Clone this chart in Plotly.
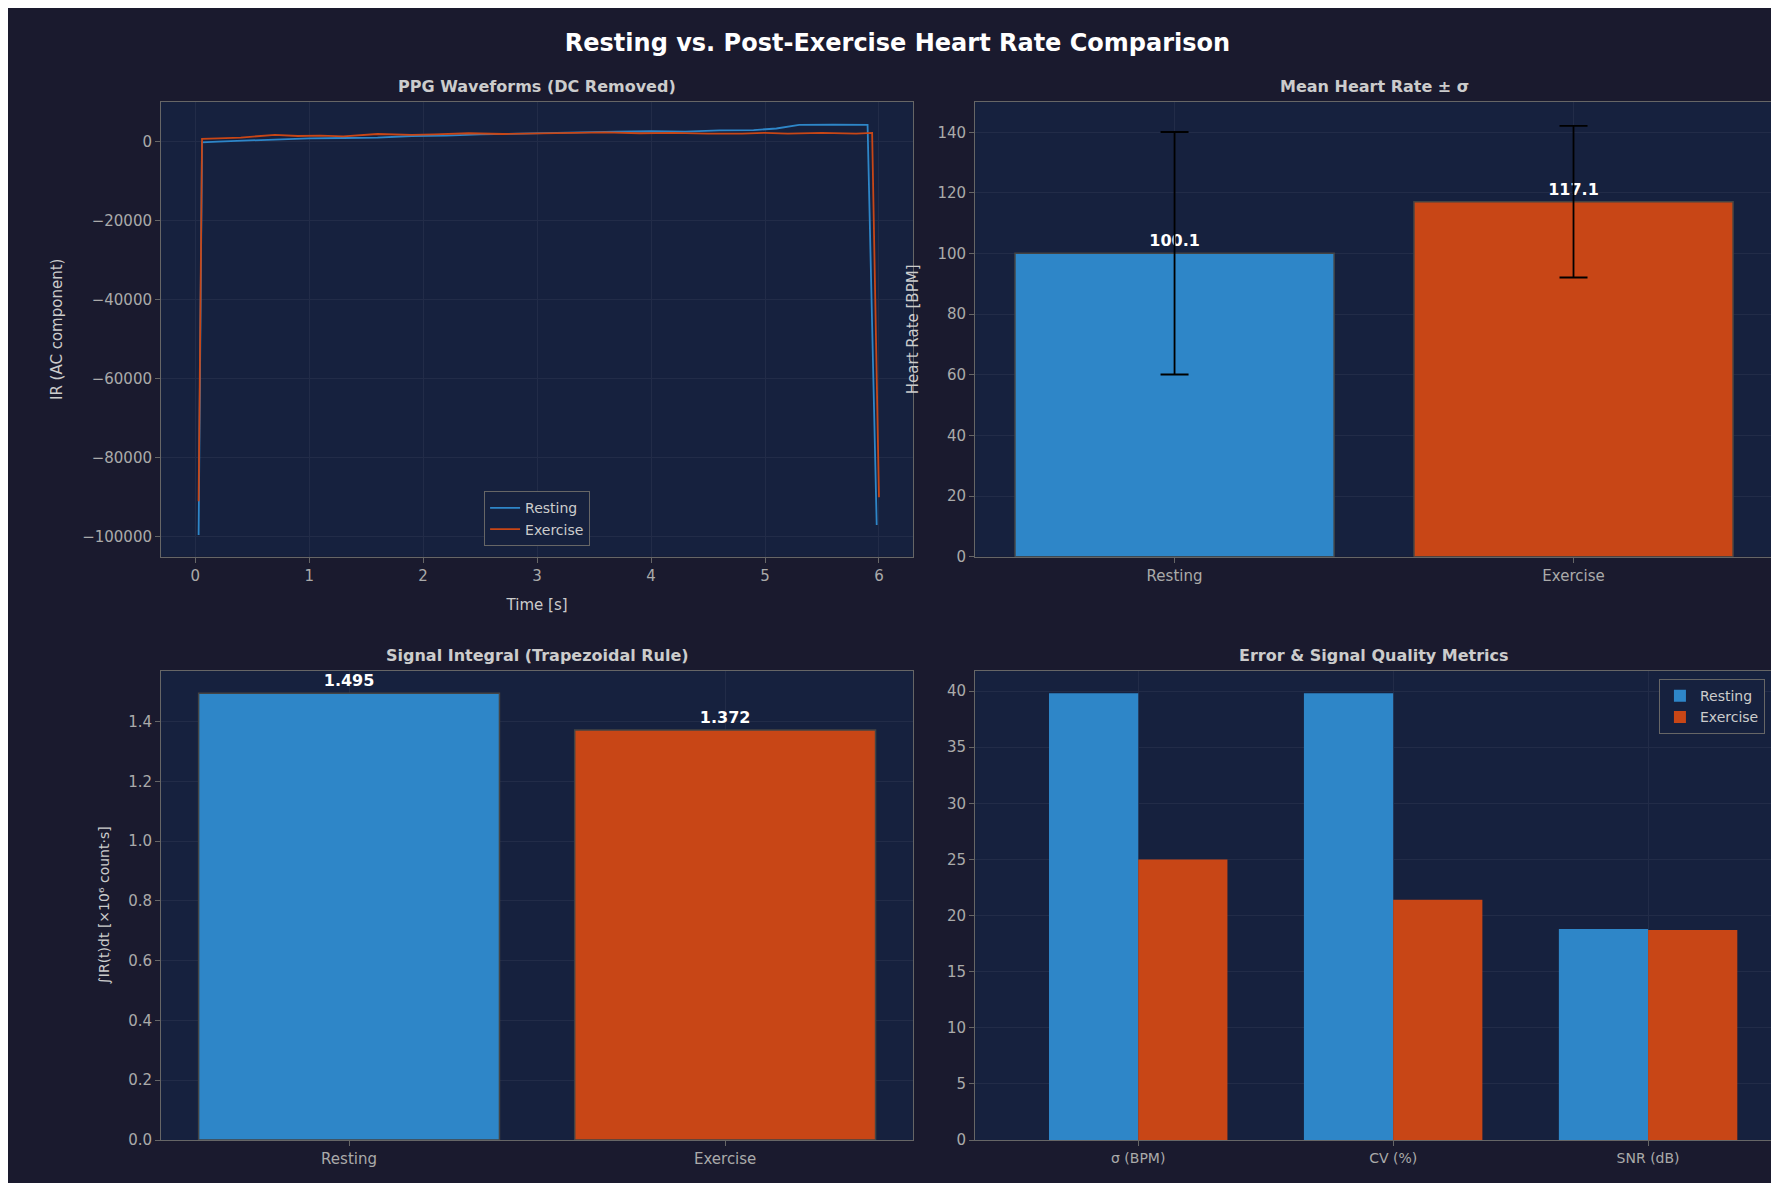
import plotly.graph_objects as go
from plotly.subplots import make_subplots

t_rest = [0.03, 0.06, 0.2, 0.5, 0.8, 1.0, 1.3, 1.6, 1.9, 2.2, 2.5, 2.8, 3.1, 3.4, 3.7, 4.0, 4.3, 4.6, 4.9, 5.1, 5.3, 5.6, 5.9, 5.98]
v_rest = [-99500, -200, 0, 300, 500, 800, 900, 1000, 1400, 1500, 1800, 2000, 2100, 2300, 2500, 2600, 2500, 2800, 2900, 3300, 4200, 4300, 4200, -97000]
t_ex = [0.03, 0.06, 0.2, 0.4, 0.7, 0.9, 1.1, 1.3, 1.6, 1.9, 2.1, 2.4, 2.7, 3.0, 3.3, 3.6, 3.9, 4.2, 4.5, 4.8, 5.0, 5.2, 5.5, 5.8, 5.94, 6.0]
v_ex = [-91000, 700, 800, 1000, 1700, 1400, 1500, 1300, 1900, 1700, 1800, 2100, 1900, 2000, 2200, 2300, 2100, 2200, 2000, 2000, 2200, 2000, 2200, 2000, 2200, -90000]

groups = ["Resting", "Exercise"]
hr_mean = [100.1, 117.1]
hr_std = [40.0, 25.0]
integral = [1.495, 1.372]
metrics = ["σ (BPM)", "CV (%)", "SNR (dB)"]
m_rest = [39.8, 39.8, 18.8]
m_ex = [25.0, 21.4, 18.7]

BLUE = "#2e86c8"
ORANGE = "#c84616"
BG = "#1a1a2e"
PBG = "#16213e"
TXT = "#cccccc"
TICK = "#aaaaaa"
GRID = "#222c48"

fig = make_subplots(rows=2, cols=2, horizontal_spacing=0.04, vertical_spacing=0.1,
                    subplot_titles=["PPG Waveforms (DC Removed)", "Mean Heart Rate ± σ",
                                    "Signal Integral (Trapezoidal Rule)", "Error & Signal Quality Metrics"])

fig.add_trace(go.Scatter(x=t_rest, y=v_rest, mode="lines", line=dict(color=BLUE, width=1.8), name="Resting", legend="legend"), 1, 1)
fig.add_trace(go.Scatter(x=t_ex, y=v_ex, mode="lines", line=dict(color=ORANGE, width=1.8), name="Exercise", legend="legend"), 1, 1)

fig.add_trace(go.Bar(x=groups, y=hr_mean, marker=dict(color=[BLUE, ORANGE], line=dict(color="#444444", width=1.5)),
                     error_y=dict(type="data", array=hr_std, color="black", thickness=1.8, width=14),
                     text=[f"<b>{v:.1f}</b>" for v in hr_mean], textposition="outside",
                     textfont=dict(color="white", size=16, family="DejaVu Sans"), width=0.8,
                     showlegend=False, cliponaxis=False), 1, 2)

fig.add_trace(go.Bar(x=groups, y=integral, marker=dict(color=[BLUE, ORANGE], line=dict(color="#444444", width=1.5)),
                     text=[f"<b>{v:.3f}</b>" for v in integral], textposition="outside",
                     textfont=dict(color="white", size=16, family="DejaVu Sans"), width=0.8,
                     showlegend=False, cliponaxis=False), 2, 1)

fig.add_trace(go.Bar(x=metrics, y=m_rest, marker=dict(color=BLUE, line=dict(width=0)), name="Resting", legend="legend2"), 2, 2)
fig.add_trace(go.Bar(x=metrics, y=m_ex, marker=dict(color=ORANGE, line=dict(width=0)), name="Exercise", legend="legend2"), 2, 2)

ax = dict(gridcolor=GRID, linecolor="#666666", mirror=True, showline=True, zeroline=False,
          tickfont=dict(color=TICK, size=15), ticks="outside", tickcolor="#666666")
fig.update_xaxes(**ax)
fig.update_yaxes(**ax)
fig.update_xaxes(range=[-0.3, 6.3], dtick=1, title=dict(text="Time [s]", font=dict(color=TXT, size=15)), row=1, col=1)
fig.update_yaxes(range=[-105000, 10000], dtick=20000, tickformat="d", title=dict(text="IR (AC component)", font=dict(color=TXT, size=15)), row=1, col=1)
fig.update_yaxes(range=[0, 150], dtick=20, title=dict(text="Heart Rate [BPM]", font=dict(color=TXT, size=15)), row=1, col=2)
fig.update_yaxes(range=[0, 1.57], dtick=0.2, tickformat=".1f", title=dict(text="∫IR(t)dt [×10⁶ count·s]", font=dict(color=TXT, size=14)), row=2, col=1)
fig.update_yaxes(range=[0, 41.8], dtick=5, row=2, col=2)
fig.update_xaxes(tickfont=dict(size=14), range=[-0.64, 2.49], row=2, col=2)

fig.update_xaxes(domain=[0, 0.4666], row=1, col=1)
fig.update_xaxes(domain=[0, 0.4666], row=2, col=1)
fig.update_xaxes(domain=[0.505, 1], row=1, col=2)
fig.update_xaxes(domain=[0.505, 1], row=2, col=2)
fig.update_yaxes(domain=[0.562, 1], row=1)
fig.update_yaxes(domain=[0, 0.452], row=2)

titles_pos = [(0.2333, 1.0), (0.7525, 1.0), (0.2333, 0.452), (0.7525, 0.452)]
for a, (xx, yy) in zip(fig.layout.annotations, titles_pos):
    a.font = dict(color=TXT, size=16, family="DejaVu Sans")
    a.text = f"<b>{a.text}</b>"
    a.x = xx
    a.y = yy
    a.yshift = 4

fig.update_layout(
    width=1779, height=1183, paper_bgcolor=BG, plot_bgcolor=PBG,
    font=dict(family="DejaVu Sans", color=TXT),
    margin=dict(l=153, r=14, t=94, b=51),
    barmode="group", bargap=0.3, bargroupgap=0,
    title=dict(text="<b>Resting vs. Post-Exercise Heart Rate Comparison</b>", x=0.5, y=0.978, font=dict(color="white", size=24)),
    legend=dict(x=0.2333, y=0.572, xanchor="center", yanchor="bottom", bgcolor=PBG, bordercolor="#666666", borderwidth=1, font=dict(color=TXT, size=14)),
    legend2=dict(x=0.995, y=0.444, xanchor="right", yanchor="top", bgcolor=PBG, bordercolor="#666666", borderwidth=1, font=dict(color=TXT, size=14)),
)
fig.write_html("out.html")
